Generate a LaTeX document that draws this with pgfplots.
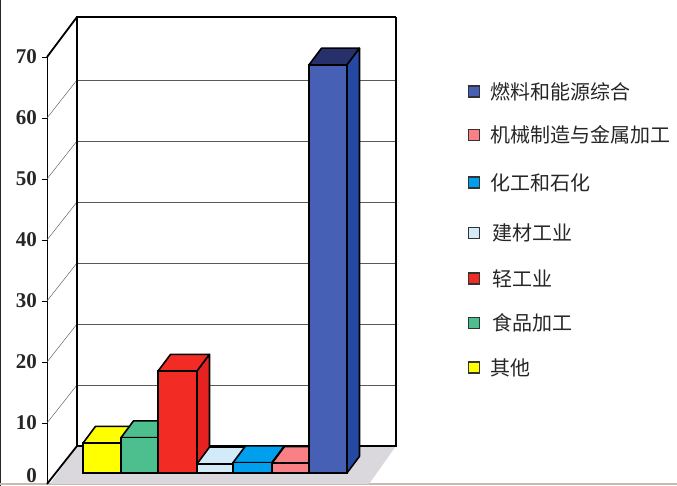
\documentclass[border=0pt]{standalone}
\usepackage{pgfplots}
\usepackage{fontspec}
\pgfplotsset{compat=1.18}
\setmainfont{Liberation Serif}
\newfontfamily\cjk{Noto Sans CJK SC}
\definecolor{cyel}{HTML}{FFFF00}
\definecolor{cgrn}{HTML}{4DBE8E}
\definecolor{cred}{HTML}{F22B24}
\definecolor{credside}{HTML}{E42320}
\definecolor{clbl}{HTML}{D3EBF9}
\definecolor{cblu}{HTML}{009FEE}
\definecolor{cpnk}{HTML}{F98085}
\definecolor{cnav}{HTML}{4560B4}
\definecolor{cnavtop}{HTML}{27306B}
\definecolor{cnavside}{HTML}{2549A3}
\definecolor{cflr}{HTML}{DAD8DC}
\definecolor{cedge}{HTML}{C4BCAE}
\newcommand{\rw}[1]{\rule{0pt}{#1pt}}
\pgfplotsset{face/.style={draw=black,line width=1.6pt,line join=round,forget plot},
  front/.style={ybar,bar shift=0pt,draw=black,line width=1.6pt}}
\begin{document}
\begin{tikzpicture}[x=1pt,y=1pt]
\useasboundingbox (0,0) rectangle (677,486);
% walls, floor, value axis
\begin{axis}[
  at={(47pt,2pt)},anchor=south west,
  scale only axis,width=630pt,height=427pt,
  xmin=47,xmax=677,ymin=0,ymax=70,clip=false,
  axis x line=none,axis y line*=left,
  axis line style={-,line width=0.8pt},
  ytick={10,20,30,40,50,60,70},
  extra y ticks={0},extra y tick labels={0},
  extra tick style={yticklabel style={yshift=8pt}},
  tick align=outside,major tick length=5pt,
  ytick style={black,line width=0.6pt},
  yticklabel style={font=\fontsize{21}{24}\selectfont\bfseries,color=black!85,inner sep=0pt,xshift=-5pt,/pgf/number format/assume math mode=true},
]
\addplot[draw=black!85,line width=1pt,forget plot] coordinates {(0.5,-0.33) (0.5,79.3)};
\addplot[draw=cedge,line width=1.2pt,forget plot] coordinates {(0,0) (677,0)};
\addplot[fill=cflr,draw=none,forget plot] coordinates {(50,0) (77,6.23) (396,6.23) (369,0) (50,0)};
% grid on the back wall and on the left wall
\pgfplotsinvokeforeach{16.23,26.23,36.23,46.23,56.23,66.23}{
  \addplot[draw=black!65,line width=0.7pt,forget plot] coordinates {(77,#1) (396,#1)};
}
\addplot[draw=black!60,line width=0.5pt,forget plot] coordinates {(47,10) (77,16.23)};
\addplot[draw=black!60,line width=0.5pt,forget plot] coordinates {(47,20) (77,26.23)};
\addplot[draw=black!60,line width=0.5pt,forget plot] coordinates {(47,30) (77,36.23)};
\addplot[draw=black!60,line width=0.5pt,forget plot] coordinates {(47,40) (77,46.23)};
\addplot[draw=black!60,line width=0.5pt,forget plot] coordinates {(47,50) (77,56.23)};
\addplot[draw=black!60,line width=0.5pt,forget plot] coordinates {(47,60) (77,66.23)};
\addplot[draw=black,line width=1.8pt,forget plot] coordinates {(47,0) (77,6.23)};
\addplot[draw=black,line width=1.4pt,forget plot] coordinates {(77,6.23) (396,6.23) (396,76.56)};
\addplot[draw=black,line width=1.8pt,forget plot] coordinates {(77,6.23) (77,76.56) (396,76.56)};
\addplot[draw=black,line width=1.8pt,forget plot] coordinates {(47,70) (77,76.56)};
\end{axis}
% the bars
\begin{axis}[
  at={(47pt,13pt)},anchor=south west,
  scale only axis,width=630pt,height=427pt,
  xmin=47,xmax=677,ymin=0,ymax=70,clip=false,
  hide axis,
  reverse legend,
  legend style={at={(axis cs:468,64.44)},anchor=north west,draw=none,fill=none,inner sep=0pt,
    font=\fontsize{20}{20}\selectfont\cjk,text=black!85,
    cells={anchor=base west},
    /tikz/every odd column/.append style={column sep=8pt},row sep=0pt},
  legend image code/.code={\draw[#1,draw=black!80,line width=1.2pt,/pgfplots/bar shift=0pt] (0pt,2pt) rectangle (11pt,13pt);},
]
% yellow
\addplot[face,fill=cyel] coordinates {(83,4.9) (121,4.9) (133.5,7.64) (95.5,7.64) (83,4.9)};
\addplot[face,fill=cyel] coordinates {(121,0) (133.5,2.74) (133.5,7.64) (121,4.9) (121,0)};
\addplot[front,fill=cyel,bar width=38pt] coordinates {(102,4.9)};
\addlegendentry{\rw{39}其他}
% green
\addplot[face,fill=cgrn] coordinates {(121,5.8) (158,5.8) (170.5,8.54) (133.5,8.54) (121,5.8)};
\addplot[face,fill=cgrn] coordinates {(158,0) (170.5,2.74) (170.5,8.54) (158,5.8) (158,0)};
\addplot[front,fill=cgrn,bar width=37pt] coordinates {(139.5,5.8)};
\addlegendentry{\rw{39}\hspace*{2pt}食品加工}
% red
\addplot[face,fill=cred] coordinates {(158,16.7) (197,16.7) (209.5,19.44) (170.5,19.44) (158,16.7)};
\addplot[face,fill=credside] coordinates {(197,0) (209.5,2.74) (209.5,19.44) (197,16.7) (197,0)};
\addplot[front,fill=cred,bar width=39pt] coordinates {(177.5,16.7)};
\addlegendentry{\rw{40}\hspace*{2pt}轻工业}
% light blue
\addplot[face,fill=clbl] coordinates {(197,1.5) (233,1.5) (245.5,4.24) (209.5,4.24) (197,1.5)};
\addplot[face,fill=clbl] coordinates {(233,0) (245.5,2.74) (245.5,4.24) (233,1.5) (233,0)};
\addplot[front,fill=clbl,bar width=36pt] coordinates {(215,1.5)};
\addlegendentry{\rw{45}\hspace*{2pt}建材工业}
% blue
\addplot[face,fill=cblu] coordinates {(233,1.7) (272,1.7) (284.5,4.44) (245.5,4.44) (233,1.7)};
\addplot[face,fill=cblu] coordinates {(272,0) (284.5,2.74) (284.5,4.44) (272,1.7) (272,0)};
\addplot[front,fill=cblu,bar width=39pt] coordinates {(252.5,1.7)};
\addlegendentry{\rw{42}化工和石化}
% pink
\addplot[face,fill=cpnk] coordinates {(272,1.6) (309,1.6) (321.5,4.34) (284.5,4.34) (272,1.6)};
\addplot[face,fill=cpnk] coordinates {(309,0) (321.5,2.74) (321.5,4.34) (309,1.6) (309,0)};
\addplot[front,fill=cpnk,bar width=37pt] coordinates {(290.5,1.6)};
\addlegendentry{\rw{38}机械制造与金属加工}
% navy
\addplot[face,fill=cnavtop] coordinates {(309,66.9) (347,66.9) (359.5,69.64) (321.5,69.64) (309,66.9)};
\addplot[face,fill=cnavside] coordinates {(347,0) (359.5,2.74) (359.5,69.64) (347,66.9) (347,0)};
\addplot[front,fill=cnav,bar width=38pt] coordinates {(328,66.9)};
\addlegendentry{燃料和能源综合}
\end{axis}
\end{tikzpicture}
\end{document}
